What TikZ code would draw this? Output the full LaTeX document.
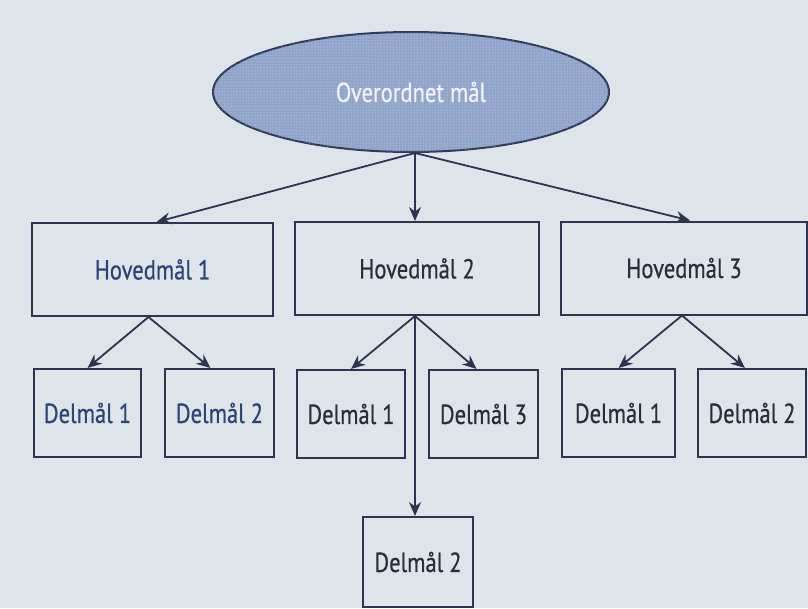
\documentclass[tikz,border=0pt]{standalone}
\usepackage{fontspec}
\setmainfont{PT Sans}[FakeStretch=0.82,FakeBold=0.6]
\usetikzlibrary{arrows.meta,shapes.geometric,patterns}
\definecolor{bg}{HTML}{DDE5EB}
\definecolor{ln}{HTML}{2C3450}
\definecolor{ellfill}{HTML}{90A4C9}
\definecolor{txtblue}{HTML}{2F4476}
\definecolor{txtdark}{HTML}{2A2E3C}
\definecolor{ellline}{HTML}{2E3A5C}
\tikzset{
  goalbox/.style={draw=ln, line width=2pt, rectangle, inner sep=0pt, font=\fontsize{27.5}{30}\selectfont},
  hbox/.style={goalbox, minimum height=93pt},
  dbox/.style={goalbox, minimum height=88pt},
  arr/.style={draw=ln, line width=1.8pt, -{Stealth[length=14pt,width=12pt]}},
}
\begin{document}
\begin{tikzpicture}[x=1pt,y=-1pt]
\useasboundingbox (0,0) rectangle (808,608);
\fill[bg] (0,0) rectangle (808,608);
% top ellipse
\node[ellipse, draw=ellline, line width=2pt, fill=ellfill,
  postaction={pattern=dots, pattern color=white!65!ellfill},
  minimum width=396pt, minimum height=120pt, inner sep=0pt,
  text=white!94!blue, font=\fontsize{27.5}{30}\selectfont] (ov) at (411,92) {Overordnet mål};
% main goals
\node[hbox, minimum width=241pt, text=txtblue] (h1) at (152.5,269.5) {Hovedmål 1};
\node[hbox, minimum width=244pt, text=txtdark] (h2) at (417,268.5) {Hovedmål 2};
\node[hbox, minimum width=246pt, text=txtdark] (h3) at (684,268) {Hovedmål 3};
% sub goals
\node[dbox, minimum width=107pt, text=txtblue] (d11) at (87.5,413) {Delmål 1};
\node[dbox, minimum width=109pt, text=txtblue] (d12) at (219.5,413) {Delmål 2};
\node[dbox, minimum width=108pt, text=txtdark] (d21) at (351,414) {Delmål 1};
\node[dbox, minimum width=109pt, text=txtdark] (d23) at (483.5,414) {Delmål 3};
\node[goalbox, minimum width=110pt, minimum height=90pt, text=txtdark] (d22) at (418,562) {Delmål 2};
\node[dbox, minimum width=113pt, text=txtdark] (d31) at (618.5,413) {Delmål 1};
\node[dbox, minimum width=108pt, text=txtdark] (d32) at (752,413) {Delmål 2};
% arrows
\coordinate (os) at ([xshift=4pt]ov.south);
\draw[arr] (os) -- ([xshift=4pt]h1.north);
\draw[arr] (os) -- ([xshift=-2pt]h2.north);
\draw[arr] (os) -- ([xshift=6pt]h3.north);
\draw[arr] ([xshift=-4pt]h1.south) -- (d11.north);
\draw[arr] ([xshift=-4pt]h1.south) -- ([xshift=-9pt]d12.north);
\draw[arr] ([xshift=-2pt]h2.south) -- (d21.north);
\draw[arr] ([xshift=-2pt]h2.south) -- ([xshift=-7pt]d23.north);
\draw[arr] ([xshift=-2pt]h2.south) -- ([xshift=-3pt]d22.north);
\draw[arr] ([xshift=-2pt]h3.south) -- (d31.north);
\draw[arr] ([xshift=-2pt]h3.south) -- ([xshift=-7pt]d32.north);
\end{tikzpicture}
\end{document}
